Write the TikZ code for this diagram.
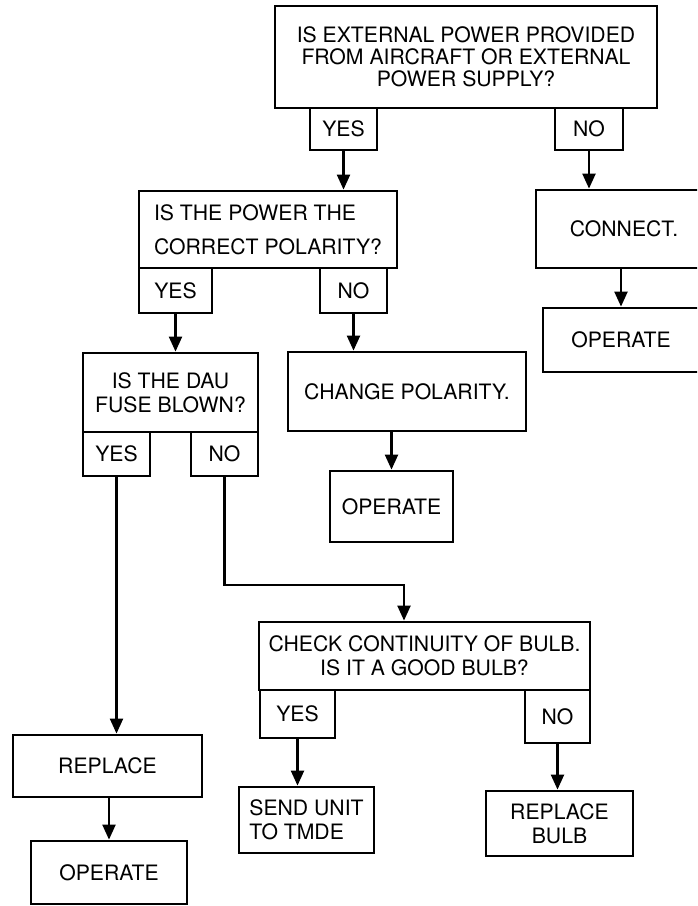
\documentclass[tikz,border=0pt]{standalone}
\usepackage{fontspec}
\setmainfont{TeX Gyre Heros}
\usetikzlibrary{arrows.meta}
\tikzset{
  chart/.style={draw=black, line width=1.4pt, inner sep=0pt, align=center,
    font=\fontsize{10.6}{12}\selectfont},
  reply/.style={chart},
  flow/.style={-{Triangle[length=7.5pt,width=6.5pt]}, line width=1.1pt},
}
\begin{document}
\begin{tikzpicture}[x=0.5pt,y=-0.5pt]
% page in pixel units of the scanned chart; the right column runs off the page
\useasboundingbox (0,0) rectangle (697,906);
\clip (0,0) rectangle (697,906);
\node[chart, minimum width=191pt, minimum height=51pt] (power) at (466,57) {IS EXTERNAL POWER PROVIDED\\[-1pt]FROM AIRCRAFT OR EXTERNAL\\[-1pt]POWER SUPPLY?};
\node[reply, minimum width=33.5pt, minimum height=21pt] (yesA) at (343.5,129) {YES};
\node[reply, minimum width=34pt, minimum height=21pt] (noA) at (589,129) {NO};
\node[chart, minimum width=129pt, minimum height=38.5pt, align=left] (polar) at (268,229.5) {IS THE POWER THE\\[5pt]CORRECT POLARITY?};
\node[reply, minimum width=36.5pt, minimum height=22.5pt] (yesB) at (175.5,290.5) {YES};
\node[reply, minimum width=33.5pt, minimum height=22.5pt] (noB) at (353.5,290.5) {NO};
\node[chart, minimum width=88pt, minimum height=39pt] (connect) at (624,229) {CONNECT.};
\node[chart, minimum width=78pt, minimum height=32pt] (opA) at (621,340) {OPERATE};
\node[chart, minimum width=87.5pt, minimum height=39.5pt] (fuse) at (170.5,392.5) {IS THE DAU\\FUSE BLOWN?};
\node[reply, minimum width=33.5pt, minimum height=22pt] (yesC) at (116.5,454) {YES};
\node[reply, minimum width=33.5pt, minimum height=22pt] (noC) at (224.5,454) {NO};
\node[chart, minimum width=119pt, minimum height=39.5pt] (change) at (407,391.5) {CHANGE POLARITY.};
\node[chart, minimum width=61.5pt, minimum height=35.5pt] (opB) at (391.5,506.5) {OPERATE};
\node[chart, minimum width=165.5pt, minimum height=34pt] (bulb) at (424.5,656) {CHECK CONTINUITY OF BULB.\\IS IT A GOOD BULB?};
\node[reply, minimum width=37.5pt, minimum height=24pt] (yesD) at (297.5,714) {YES};
\node[reply, minimum width=32.5pt, minimum height=26.5pt] (noD) at (557.5,716.5) {NO};
\node[chart, minimum width=67.5pt, minimum height=33pt, align=left] (send) at (306.5,820) {SEND UNIT\\TO TMDE};
\node[chart, minimum width=73.5pt, minimum height=32.5pt] (newbulb) at (559.5,823.5) {REPLACE\\BULB};
\node[chart, minimum width=94.5pt, minimum height=31pt] (replace) at (107.5,766) {REPLACE};
\node[chart, minimum width=78pt, minimum height=31.5pt] (opC) at (109,872.5) {OPERATE};
\coordinate (turn) at (404,585);
% answers drop straight down from their tab
\foreach \a/\b in {yesA/polar, noA/connect, yesB/fuse, noB/change, yesC/replace, yesD/send, noD/newbulb}
  \draw[flow] (\a.south) -- (\a.south |- \b.north);
\foreach \a/\b in {connect/opA, change/opB, replace/opC}
  \draw[flow] (\b.north |- \a.south) -- (\b.north);
\draw[flow] (noC.south) |- (turn) -- (turn |- bulb.north);
\end{tikzpicture}
\end{document}
